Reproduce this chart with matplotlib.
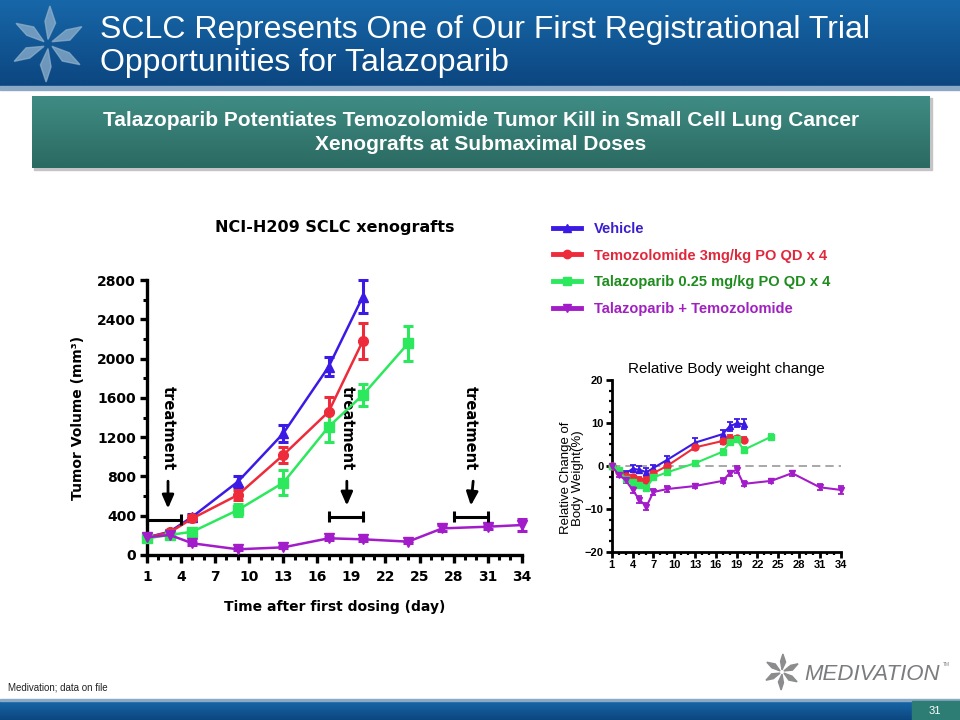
import matplotlib
matplotlib.use("Agg")
import matplotlib.pyplot as plt
import numpy as np
from matplotlib import font_manager
from matplotlib.colors import LinearSegmentedColormap
from matplotlib.lines import Line2D
from matplotlib.patches import Polygon, Rectangle
from matplotlib.ticker import MultipleLocator, FixedLocator

# ---- data: tumour volume (mm3) ----
veh_days = [1, 3, 5, 9, 13, 17, 20]
veh_vol = [180, 237, 390, 746, 1238, 1917, 2629]
veh_sem = [15, 20, 30, 55, 90, 95, 170]

tmz_days = [1, 3, 5, 9, 13, 17, 20]
tmz_vol = [180, 230, 373, 611, 1018, 1459, 2178]
tmz_sem = [15, 20, 30, 50, 85, 150, 185]

tal_days = [1, 3, 5, 9, 13, 17, 20, 24]
tal_vol = [170, 204, 237, 458, 736, 1306, 1628, 2155]
tal_sem = [15, 15, 25, 60, 130, 160, 110, 175]

combo_days = [1, 3, 5, 9, 13, 17, 20, 24, 27, 31, 34]
combo_vol = [180, 204, 119, 58, 78, 170, 160, 136, 271, 288, 305]
combo_sem = [15, 15, 15, 10, 10, 15, 15, 10, 30, 25, 60]

treat_windows = [(1, 4, 360), (17, 20, 390), (28, 31, 390)]
treat_text_x = [2.85, 18.6, 29.5]

# ---- data: relative body weight change (%) ----
bw_veh_days = [1, 2, 3, 4, 5, 6, 7, 9, 13, 17, 18, 19, 20]
bw_veh = [0, -1.0, -1.8, -0.7, -0.9, -1.5, -0.5, 1.4, 5.4, 7.4, 9.2, 9.9, 9.7]
bw_veh_sem = [0.3, 0.5, 0.5, 0.8, 0.8, 0.9, 0.8, 0.9, 1.0, 1.0, 1.0, 0.9, 1.1]

bw_tmz_days = [1, 2, 3, 4, 5, 6, 7, 9, 13, 17, 18, 19, 20]
bw_tmz = [0, -1.5, -2.3, -2.7, -3.3, -3.3, -1.7, 0.0, 4.3, 5.8, 6.6, 6.4, 6.1]
bw_tmz_sem = [0.3, 0.5, 0.6, 0.6, 0.7, 0.7, 0.6, 0.6, 0.7, 0.6, 0.7, 0.6, 0.6]

bw_tal_days = [1, 2, 3, 4, 5, 6, 7, 9, 13, 17, 18, 19, 20, 24]
bw_tal = [0, -0.9, -3.0, -3.8, -4.4, -5.2, -2.7, -1.5, 0.6, 3.3, 5.5, 6.3, 3.7, 6.8]
bw_tal_sem = [0.3, 0.5, 0.6, 0.6, 0.6, 0.7, 0.6, 0.5, 0.5, 0.6, 0.6, 0.6, 0.6, 0.6]

bw_combo_days = [1, 2, 3, 4, 5, 6, 7, 9, 13, 17, 18, 19, 20, 24, 27, 31, 34]
bw_combo = [0, -2.1, -3.3, -5.6, -7.9, -9.5, -6.1, -5.4, -4.7, -3.5, -1.7, -0.9,
            -4.2, -3.5, -1.7, -5.0, -5.6]
bw_combo_sem = [0.3, 0.5, 0.6, 0.7, 0.8, 0.9, 0.8, 0.6, 0.5, 0.6, 0.6, 0.8,
                0.6, 0.5, 0.6, 0.7, 0.9]

labels = ["Vehicle", "Temozolomide 3mg/kg PO QD x 4",
          "Talazoparib 0.25 mg/kg PO QD x 4", "Talazoparib + Temozolomide"]
line_colors = ["#3b1ae6", "#ee2b3b", "#2be85c", "#a31cc9"]
text_colors = ["#3a1fd0", "#e0283c", "#1e8c1e", "#a020c0"]
markers = ["^", "o", "s", "v"]

title_lines = ["SCLC Represents One of Our First Registrational Trial",
               "Opportunities for Talazoparib"]
subtitle_lines = ["Talazoparib Potentiates Temozolomide Tumor Kill in Small Cell Lung Cancer",
                  "Xenografts at Submaximal Doses"]

names = {f.name for f in font_manager.fontManager.ttflist}
NARROW = "Liberation Sans Narrow" if "Liberation Sans Narrow" in names else "Liberation Sans"

W, H = 960, 720
fig = plt.figure(figsize=(9.6, 7.2), dpi=100)

# ---- slide background (pixel coordinates) ----
bg = fig.add_axes([0, 0, 1, 1], zorder=0)
bg.axis("off")


def gradient(ax, x0, x1, y0, y1, c_top, c_bot):
    cmap = LinearSegmentedColormap.from_list("g", [c_top, c_bot])
    ax.imshow(np.linspace(0, 1, 64).reshape(-1, 1), cmap=cmap, origin="upper",
              extent=(x0, x1, y1, y0), aspect="auto", interpolation="bilinear", zorder=1)


def star(ax, cx, cy, r, color, alpha=1.0, lw=1.0):
    for k in range(6):
        a = np.deg2rad(90 + 60 * k)
        d = np.array([np.cos(a), -np.sin(a)])
        n = np.array([-d[1], d[0]])
        pts = [
            (cx, cy) + d * r * 0.12,
            (cx, cy) + d * r * 0.55 + n * r * 0.2,
            (cx, cy) + d * r * 1.0 + n * r * 0.05,
            (cx, cy) + d * r * 0.6 - n * r * 0.08,
        ]
        ax.add_patch(Polygon(pts, closed=True, facecolor=color, edgecolor=color,
                             alpha=alpha, lw=lw, zorder=2))


gradient(bg, 0, W, 0, 86, "#1767a8", "#0c4680")
bg.add_patch(Rectangle((0, 86), W, 4, color="#8aa9c6", zorder=2))
star(bg, 48, 44, 38, "#8fb0cc", alpha=0.75)
for i, line in enumerate(title_lines):
    bg.text(100, 30 + 33 * i, line, color="white", fontsize=23, family=NARROW,
            va="center", ha="left", zorder=3)

bg.add_patch(Rectangle((34, 98), 898, 72, color="#c4c4c4", zorder=0.5))
gradient(bg, 32, 930, 96, 168, "#3f8c84", "#2b6a62")
for i, line in enumerate(subtitle_lines):
    bg.text(481, 120 + 25 * i, line, color="white", fontsize=15, family=NARROW,
            weight="bold", va="center", ha="center", zorder=3)

gradient(bg, 0, W, 701, H, "#1767a8", "#0c4680")
bg.add_patch(Rectangle((0, 699), W, 2, color="#8aa9c6", zorder=2))
bg.add_patch(Rectangle((912, 701), 48, 19, color="#2e7d74", zorder=2))
bg.text(935, 711, "31", color="white", fontsize=8, family="Liberation Sans",
        ha="center", va="center", zorder=3)
bg.text(8, 688, "Medivation; data on file", color="#222222", fontsize=7,
        family="Liberation Sans", ha="left", va="center")
star(bg, 782, 672, 18, "#8a8c8e")
bg.text(804, 675, "MEDIVATION", color="#7a7c7f", fontsize=16, style="italic",
        family="Liberation Sans", ha="left", va="center")
bg.text(943, 666, "TM", color="#808285", fontsize=3.5, family="Liberation Sans")

bg.set_xlim(0, W)
bg.set_ylim(H, 0)

# ---- main chart: tumour volume ----
ax = fig.add_axes([147 / W, 1 - 555 / H, (521.7 - 147) / W, (555 - 280) / H], zorder=2)
ax.patch.set_alpha(0)
series = [
    (veh_days, veh_vol, veh_sem),
    (tmz_days, tmz_vol, tmz_sem),
    (tal_days, tal_vol, tal_sem),
    (combo_days, combo_vol, combo_sem),
]
for (d, v, s), c, m in zip(series, line_colors, markers):
    ax.errorbar(d, v, yerr=s, color=c, marker=m, ms=7, lw=1.8, elinewidth=2.2,
                capsize=3.5, capthick=2.2, clip_on=False, zorder=3)

for (x0, x1, yb), tx in zip(treat_windows, treat_text_x):
    ax.plot([x0, x1], [yb, yb], color="black", lw=2.2, clip_on=False, zorder=4)
    ax.vlines([x0, x1], yb - 55, yb + 55, color="black", lw=2.2, clip_on=False, zorder=4)
    ax.text(tx, 1290, "treatment", rotation=-90, ha="center", va="center",
            fontsize=10.5, weight="bold", family="DejaVu Sans")
    ax.annotate("", xy=(tx, yb + 85), xytext=(tx + (0.25 if x0 > 25 else 0), 780),
                arrowprops=dict(arrowstyle="-|>,head_width=0.35,head_length=0.8",
                                color="black", lw=2))

ax.set_xlim(1, 34)
ax.set_ylim(0, 2800)
for side in ("top", "right"):
    ax.spines[side].set_visible(False)
for side in ("left", "bottom"):
    ax.spines[side].set_linewidth(2.4)
ax.xaxis.set_major_locator(FixedLocator(list(range(1, 35, 3))))
ax.xaxis.set_minor_locator(MultipleLocator(1))
ax.yaxis.set_major_locator(MultipleLocator(400))
ax.yaxis.set_minor_locator(MultipleLocator(200))
ax.tick_params(axis="x", which="major", length=6, width=2.4, pad=5)
ax.tick_params(axis="x", which="minor", length=3.5, width=2.2)
ax.tick_params(axis="y", which="major", length=5, width=2.4, pad=3)
ax.tick_params(axis="y", which="minor", length=3, width=2.2)
for t in ax.get_xticklabels() + ax.get_yticklabels():
    t.set_fontweight("bold")
    t.set_fontsize(10)
ax.set_xlabel("Time after first dosing (day)", fontsize=10, weight="bold")
ax.set_ylabel("Tumor Volume (mm³)", fontsize=10, weight="bold")
ax.xaxis.set_label_coords(0.5, -0.165)
ax.yaxis.set_label_coords(-0.165, 0.5)
ax.text(0.5, 1.19, "NCI-H209 SCLC xenografts", transform=ax.transAxes,
        ha="center", va="center", fontsize=11.5, weight="bold")

# ---- inset: relative body weight change ----
ax2 = fig.add_axes([611.7 / W, 1 - 551.7 / H, 229 / W, 171.7 / H], zorder=2)
ax2.patch.set_alpha(0)
ax2.axhline(0, color="#9a9a9a", lw=1.2, ls=(0, (5, 3)), zorder=1)
bw_series = [
    (bw_veh_days, bw_veh, bw_veh_sem),
    (bw_tmz_days, bw_tmz, bw_tmz_sem),
    (bw_tal_days, bw_tal, bw_tal_sem),
    (bw_combo_days, bw_combo, bw_combo_sem),
]
for (d, v, s), c, m in zip(bw_series, line_colors, markers):
    ax2.errorbar(d, v, yerr=s, color=c, marker=m, ms=5, lw=1.5, elinewidth=1.3,
                 capsize=2.5, capthick=1.3, clip_on=False, zorder=3)
ax2.set_xlim(1, 34)
ax2.set_ylim(-20, 20)
for side in ("top", "right"):
    ax2.spines[side].set_visible(False)
for side in ("left", "bottom"):
    ax2.spines[side].set_linewidth(2)
ax2.xaxis.set_major_locator(FixedLocator(list(range(1, 35, 3))))
ax2.xaxis.set_minor_locator(MultipleLocator(1))
ax2.yaxis.set_major_locator(MultipleLocator(10))
ax2.yaxis.set_minor_locator(MultipleLocator(2.5))
ax2.tick_params(axis="both", which="major", length=4, width=2, pad=2)
ax2.tick_params(axis="both", which="minor", length=2.5, width=1.6)
for t in ax2.get_xticklabels():
    t.set_fontsize(8)
    t.set_fontweight("bold")
    t.set_family("Liberation Sans")
for t in ax2.get_yticklabels():
    t.set_fontsize(8)
    t.set_fontweight("bold")
    t.set_family("Liberation Sans")
ax2.set_ylabel("Relative Change of\nBody Weight(%)", fontsize=9.5, family="Liberation Sans",
               linespacing=1.0)
ax2.yaxis.set_label_coords(-0.12, 0.43)
ax2.text(0.5, 1.065, "Relative Body weight change", transform=ax2.transAxes,
         ha="center", va="center", fontsize=11, family="Liberation Sans")

# ---- legend ----
handles = [Line2D([], [], color=c, lw=3.5, marker=m, ms=6) for c, m in zip(line_colors, markers)]
leg = fig.legend(handles, labels, loc="upper left", bbox_to_anchor=(553 / W, 1 - 222 / H),
                 frameon=False, handlelength=1.9, handletextpad=0.9, labelspacing=0.86,
                 borderpad=0, borderaxespad=0,
                 prop=dict(family="Liberation Sans", weight="bold", size=10.5))
for t, c in zip(leg.get_texts(), text_colors):
    t.set_color(c)

fig.savefig("out.png", dpi=100)
